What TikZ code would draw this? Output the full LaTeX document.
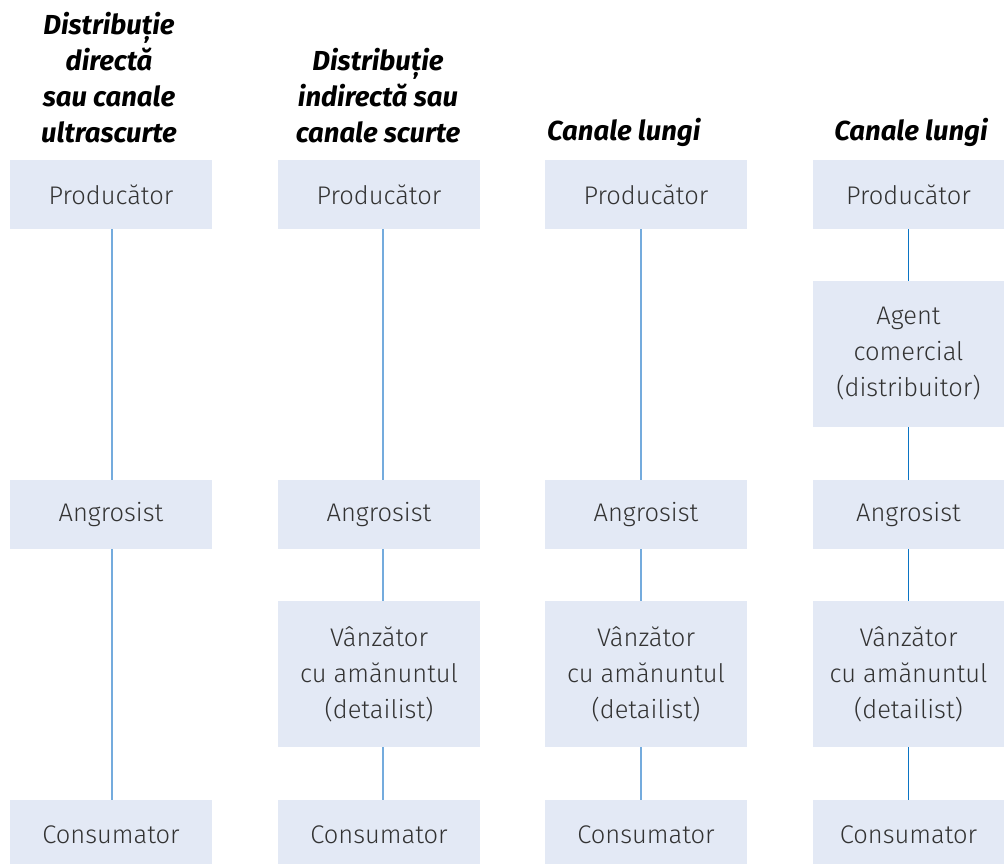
\documentclass[tikz,border=0pt]{standalone}
\usepackage{fontspec}
\setmainfont{Fira Sans Light}
\newfontfamily\headfont{Fira Sans}
\definecolor{boxfill}{HTML}{E3E9F5}
\definecolor{txt}{HTML}{333333}
\definecolor{lnlight}{HTML}{74ABDD}
\definecolor{lndark}{HTML}{0A74C4}
\tikzset{
  box/.style={fill=boxfill, draw=none, minimum width=202pt, inner sep=0pt, text=txt,
    align=center, font=\fontsize{25.5}{36}\selectfont},
  boxs/.style={box, minimum height=69pt},
  boxt/.style={box, minimum height=146pt},
  head/.style={inner sep=0pt, align=center, text=black,
    font=\headfont\bfseries\itshape\fontsize{27.5}{36}\selectfont},
  conn/.style={draw=lnlight, line width=1.3pt},
  conndark/.style={draw=lndark, line width=1.3pt}
}
\begin{document}
\begin{tikzpicture}[x=1pt,y=-1pt]
\useasboundingbox (0,0) rectangle (1004,863);
\clip (0,0) rectangle (1004,863);
% headers
\node[head, anchor=base] (h1) at (109,142) {Distribuție\\directă\\sau canale\\ultrascurte};
\node[head, anchor=base] (h2) at (378,142) {Distribuție\\indirectă sau\\canale scurte};
\node[head, anchor=base west] (h3) at (547,140) {Canale lungi};
\node[head, anchor=base] (h4) at (911,140) {Canale lungi};
% column 1
\node[boxs] (p1) at (111,194.5) {Producător};
\node[boxs] (a1) at (111,514.5) {Angrosist};
\node[boxs] (c1) at (111,834.5) {Consumator};
% column 2
\node[boxs] (p2) at (379,194.5) {Producător};
\node[boxs] (a2) at (379,514.5) {Angrosist};
\node[boxt] (v2) at (379,674) {Vânzător\\cu amănuntul\\(detailist)};
\node[boxs] (c2) at (379,834.5) {Consumator};
% column 3
\node[boxs] (p3) at (646,194.5) {Producător};
\node[boxs] (a3) at (646,514.5) {Angrosist};
\node[boxt] (v3) at (646,674) {Vânzător\\cu amănuntul\\(detailist)};
\node[boxs] (c3) at (646,834.5) {Consumator};
% column 4
\node[boxs] (p4) at (914,194.5) {\hspace*{-11pt}Producător};
\node[boxt] (g4) at (914,354) {\hspace*{-11pt}Agent\\\hspace*{-11pt}comercial\\\hspace*{-11pt}(distribuitor)};
\node[boxs] (a4) at (914,514.5) {\hspace*{-11pt}Angrosist};
\node[boxt] (v4) at (914,674) {\hspace*{-11pt}Vânzător\\\hspace*{-11pt}cu amănuntul\\\hspace*{-11pt}(detailist)};
\node[boxs] (c4) at (914,834.5) {\hspace*{-11pt}Consumator};
% connectors
\draw[conn] ([xshift=1pt]p1.south) -- ([xshift=1pt]a1.north);
\draw[conn] ([xshift=1pt]a1.south) -- ([xshift=1pt]c1.north);
\draw[conn] ([xshift=4pt]p2.south) -- ([xshift=4pt]a2.north);
\draw[conn] ([xshift=4pt]a2.south) -- ([xshift=4pt]v2.north);
\draw[conn] ([xshift=4pt]v2.south) -- ([xshift=4pt]c2.north);
\draw[conn] ([xshift=-5pt]p3.south) -- ([xshift=-5pt]a3.north);
\draw[conn] ([xshift=-5pt]a3.south) -- ([xshift=-5pt]v3.north);
\draw[conn] ([xshift=-5pt]v3.south) -- ([xshift=-5pt]c3.north);
\draw[conndark] ([xshift=-5.3pt]p4.south) -- ([xshift=-5.3pt]g4.north);
\draw[conndark] ([xshift=-5.3pt]g4.south) -- ([xshift=-5.3pt]a4.north);
\draw[conndark] ([xshift=-5.3pt]a4.south) -- ([xshift=-5.3pt]v4.north);
\draw[conndark] ([xshift=-5.3pt]v4.south) -- ([xshift=-5.3pt]c4.north);
\end{tikzpicture}
\end{document}
